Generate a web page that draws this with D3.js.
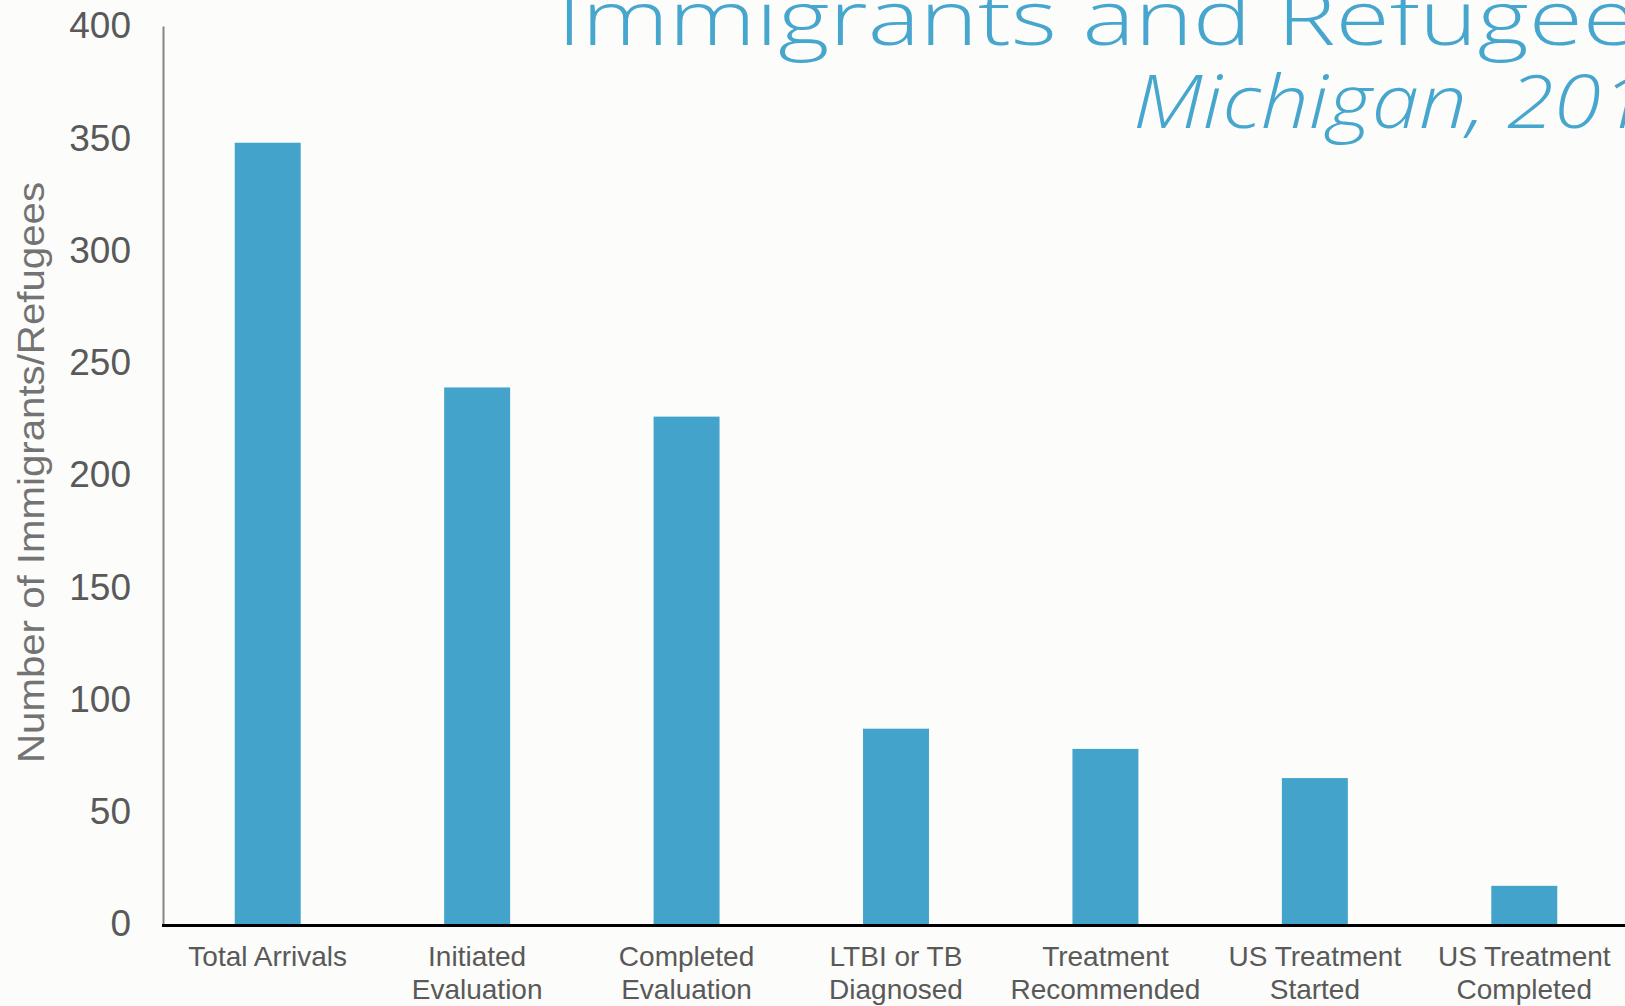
<!DOCTYPE html>
<html>
<head>
<meta charset="utf-8">
<script src="https://cdn.jsdelivr.net/npm/d3@7"></script>
<style>
  html, body { margin: 0; padding: 0; background: #fcfcfa; overflow: hidden; }
  svg { display: block; }
</style>
</head>
<body>
<svg id="chart" width="1625" height="1006"></svg>
<script>
// ---- data ----
const categories = [
  ["Total Arrivals"],
  ["Initiated", "Evaluation"],
  ["Completed", "Evaluation"],
  ["LTBI or TB", "Diagnosed"],
  ["Treatment", "Recommended"],
  ["US Treatment", "Started"],
  ["US Treatment", "Completed"]
];
const values = [348, 239, 226, 87, 78, 65, 17];
const yTicks = [0, 50, 100, 150, 200, 250, 300, 350, 400];
const titleText = "Immigrants and Refugees";
const subtitleText = "Michigan, 201";
const yAxisTitle = "Number of Immigrants/Refugees";

// ---- layout ----
const W = 1625, H = 1006;
const svg = d3.select("#chart");
svg.append("rect").attr("width", W).attr("height", H).attr("fill", "#fcfcfa");

const keys = categories.map(c => c.join(" "));
const x = d3.scaleBand().domain(keys).range([163, 1629]).paddingInner(0.685).paddingOuter(0.3425);
const y = d3.scaleLinear().domain([0, 400]).range([924, 26]);

const barColor = "#43a3cb";

// bars
svg.append("g").selectAll("rect").data(values).join("rect")
  .attr("x", (d, i) => x(keys[i]))
  .attr("width", x.bandwidth())
  .attr("y", d => y(d))
  .attr("height", d => y(0) - y(d))
  .attr("fill", barColor);

// y axis
const yAxis = svg.append("g").attr("transform", "translate(163,0)")
  .call(d3.axisLeft(y).tickValues(yTicks).tickSize(0).tickSizeOuter(0).tickPadding(32));
yAxis.select(".domain").attr("stroke", "#858585").attr("stroke-width", 2);
yAxis.selectAll("text")
  .attr("font-family", "'Liberation Sans', Arial, sans-serif")
  .attr("font-size", 37)
  .attr("fill", "#595959");

// x axis
const xAxis = svg.append("g").attr("transform", "translate(0,925.5)")
  .call(d3.axisBottom(x).tickSize(0).tickSizeOuter(0).tickFormat(""));
xAxis.select(".domain").attr("stroke", "#000").attr("stroke-width", 3)
  .attr("d", `M162,0H${W}`);

// x labels
const lbl = svg.append("g")
  .attr("font-family", "'Liberation Sans', Arial, sans-serif")
  .attr("font-size", 28)
  .attr("fill", "#595959")
  .attr("text-anchor", "middle");
categories.forEach((lines, i) => {
  const cx = x(keys[i]) + x.bandwidth() / 2;
  const t = lbl.append("text").attr("x", cx).attr("y", 966);
  lines.forEach((ln, j) => {
    t.append("tspan").attr("x", cx).attr("y", 966 + j * 33).text(ln);
  });
});

// y axis title
svg.append("text")
  .attr("transform", "translate(44,472.5) rotate(-90)")
  .attr("text-anchor", "middle")
  .attr("font-family", "'Liberation Sans', Arial, sans-serif")
  .attr("font-size", 36)
  .attr("fill", "#737373")
  .attr("textLength", 581)
  .attr("lengthAdjust", "spacingAndGlyphs")
  .text(yAxisTitle);

// title
const titleColor = "#47a6cd";
const title = svg.append("text")
  .attr("font-family", "'Open Sans', sans-serif")
  .attr("font-weight", 300)
  .attr("font-size", 75)
  .attr("fill", titleColor)
  .attr("x", 0).attr("y", 0)
  .text(titleText);
{
  const w = title.node().getSubStringLength(0, 21);
  const sx = 1026 / w;
  title.attr("transform", `translate(557,45) scale(${sx},1)`);
}

const sub = svg.append("text")
  .attr("font-family", "'Open Sans', sans-serif")
  .attr("font-weight", 300)
  .attr("font-style", "italic")
  .attr("font-size", 73)
  .attr("fill", titleColor)
  .attr("x", 0).attr("y", 0)
  .text(subtitleText);
{
  const w = sub.node().getSubStringLength(0, 12);
  const sx = 468 / w;
  sub.attr("transform", `translate(1133,128) scale(${sx},1)`);
}
</script>
</body>
</html>
